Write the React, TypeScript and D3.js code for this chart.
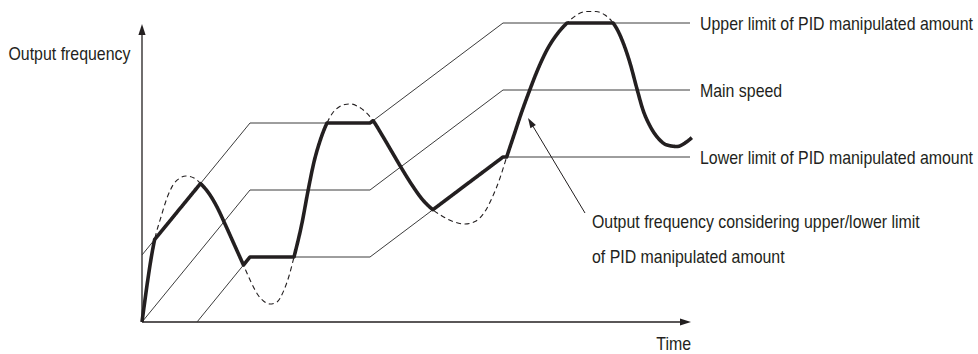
import React, { useEffect, useRef } from "react";
import * as d3 from "d3";

const W = 978;
const H = 354;

// Time axis (arbitrary units) and output frequency (arbitrary units)
const mainSpeedT = [0, 10.8, 22.8, 36.1, 54.8];
const mainSpeedF = [0, 26.4, 26.4, 46.4, 46.4];
const upperLimitT = [0, 10.8, 22.8, 36.1, 54.8];
const upperLimitF = [13.4, 39.8, 39.8, 59.8, 59.8];
const lowerLimitT = [5.5, 10.8, 22.8, 36.1, 54.8];
const lowerLimitF = [0, 13, 13, 33, 33];

// Unlimited PID output (dashed curve)
const pidOutputT = [
  0, 1.3, 1.9, 2.5, 3.1, 3.8, 4.4, 5.2, 5.9, 6.7, 7.5, 8.3, 9.2, 10.1, 10.9, 11.6,
  12.2, 12.8, 13.5, 14.2, 14.7, 15.2, 16.0, 16.6, 17.2, 17.8, 18.5, 19.1, 19.7,
  20.3, 20.9, 21.6, 22.3, 23.1, 24.0, 25.0, 26.0, 27.0, 28.0, 29.0, 30.0, 31.1,
  32.3, 33.3, 34.2, 35.0, 35.8, 36.5, 37.2, 37.9, 38.7, 39.6, 40.6, 41.6, 42.5,
  43.4, 44.4, 45.4, 46.3, 47.0, 47.6, 48.2, 48.8, 49.5, 50.1, 50.8, 51.6, 52.5,
  53.5, 54.3, 55.0,
];
const pidOutputF = [
  0, 16.8, 21, 24.8, 27.4, 28.8, 29.2, 28.8, 27.6, 25.7, 23, 19.6, 15.6, 11.6, 8, 5.4,
  4.1, 3.6, 4, 6.4, 9.2, 13, 19.8, 26.2, 32, 36.2, 39.8, 41.9, 43,
  43.5, 43.6, 43.1, 42.1, 40.3, 37.4, 34, 30.6, 27.4, 24.6, 22.6, 21.2, 20.1,
  19.6, 20.1, 21.8, 24.8, 28.8, 33.2, 37.4, 41.6, 46, 50.6, 54.8, 57.8, 59.8,
  61.3, 62.1, 62.1, 61.4, 60.1, 58.2, 55.4, 51.8, 46.6, 42.4, 39.2, 36.8, 35.4,
  35.1, 35.8, 36.9,
];

const lineLabels = [
  "Upper limit of PID manipulated amount",
  "Main speed",
  "Lower limit of PID manipulated amount",
];
const yAxisTitle = "Output frequency";
const xAxisTitle = "Time";
const calloutLines = [
  "Output frequency considering upper/lower limit",
  "of PID manipulated amount",
];
// callout arrow: [tail, tip] in data units
const calloutArrowT = [44.3, 38.6];
const calloutArrowF = [21.8, 40.8];

const FONT = "'Liberation Sans', Arial, sans-serif";
const FS = 15.9;
const STRETCH = 1.17;

export default function App() {
  const ref = useRef<SVGSVGElement>(null);

  useEffect(() => {
    const svg = d3.select(ref.current);
    svg.selectAll("*").remove();
    const ink = "#231f20";
    const thin = "#3c3c3c";

    const x = d3.scaleLinear().domain([0, 54.8]).range([142, 690]);
    const y = d3.scaleLinear().domain([0, 60]).range([322, 22]);

    const zip = (ts: number[], fs: number[]) =>
      ts.map((t, i) => [t, fs[i]] as [number, number]);
    const linear = d3
      .line<[number, number]>()
      .x((d) => x(d[0]))
      .y((d) => y(d[1]));
    const smooth = d3
      .line<[number, number]>()
      .x((d) => x(d[0]))
      .y((d) => y(d[1]))
      .curve(d3.curveMonotoneX);

    const addText = (s: string, tx: number, ty: number, anchor = "start") => {
      svg.append("text")
        .attr("transform", `translate(${tx},${ty}) scale(1,${STRETCH})`)
        .attr("text-anchor", anchor)
        .attr("font-family", FONT)
        .attr("font-size", FS)
        .attr("fill", ink)
        .text(s);
    };

    // axes
    const x0 = x(0), y0 = y(0);
    const yTop = 24;
    const xRight = 691;
    svg.append("line").attr("x1", x0).attr("y1", y0).attr("x2", x0).attr("y2", yTop + 8)
      .attr("stroke", ink).attr("stroke-width", 1.3);
    svg.append("path")
      .attr("d", `M${x0},${yTop}L${x0 - 3.6},${yTop + 11}L${x0 + 3.6},${yTop + 11}Z`)
      .attr("fill", ink);
    svg.append("line").attr("x1", x0).attr("y1", y0).attr("x2", xRight - 8).attr("y2", y0)
      .attr("stroke", ink).attr("stroke-width", 1.3);
    svg.append("path")
      .attr("d", `M${xRight},${y0}L${xRight - 11},${y0 - 3.6}L${xRight - 11},${y0 + 3.6}Z`)
      .attr("fill", ink);

    // limit lines and main speed
    const series: [number[], number[]][] = [
      [upperLimitT, upperLimitF],
      [mainSpeedT, mainSpeedF],
      [lowerLimitT, lowerLimitF],
    ];
    series.forEach(([ts, fs]) => {
      svg.append("path")
        .attr("d", linear(zip(ts, fs)))
        .attr("fill", "none")
        .attr("stroke", thin)
        .attr("stroke-width", 1);
    });

    // dashed unlimited output
    const raw = svg.append("path")
      .attr("d", smooth(zip(pidOutputT, pidOutputF)))
      .attr("fill", "none")
      .attr("stroke", ink)
      .attr("stroke-width", 1.1)
      .attr("stroke-dasharray", "5,3.5");

    // thick limited output = unlimited output clamped to the limits
    const node = raw.node() as SVGPathElement;
    const total = node.getTotalLength();
    const upperY = d3.scaleLinear().domain(upperLimitT.map(x)).range(upperLimitF.map(y)).clamp(true);
    const lowerY = d3.scaleLinear().domain(lowerLimitT.map(x)).range(lowerLimitF.map(y)).clamp(true);
    const pts: [number, number][] = [];
    for (let s = 0; s <= total + 0.001; s += 0.5) {
      const p = node.getPointAtLength(Math.min(s, total));
      pts.push([p.x, Math.max(upperY(p.x), Math.min(lowerY(p.x), p.y))]);
    }
    svg.append("path")
      .attr("d", d3.line()(pts))
      .attr("fill", "none")
      .attr("stroke", ink)
      .attr("stroke-width", 3.6)
      .attr("stroke-linejoin", "round");

    // labels for lines
    series.forEach(([, fs], i) => {
      addText(lineLabels[i], 700, y(fs[fs.length - 1]) + 6.5);
    });

    // axis titles
    addText(yAxisTitle, 8.5, 60);
    addText(xAxisTitle, 691, 350, "end");

    // callout arrow
    const tx = x(calloutArrowT[0]), ty = y(calloutArrowF[0]);
    const hx = x(calloutArrowT[1]), hy = y(calloutArrowF[1]);
    const dx = hx - tx, dy = hy - ty;
    const len = Math.hypot(dx, dy);
    const ux = dx / len, uy = dy / len;
    const hl = 10, hw = 3.2;
    svg.append("line")
      .attr("x1", tx).attr("y1", ty)
      .attr("x2", hx - ux * (hl - 2)).attr("y2", hy - uy * (hl - 2))
      .attr("stroke", ink).attr("stroke-width", 1);
    const bx = hx - ux * hl, by = hy - uy * hl;
    svg.append("path")
      .attr("d", `M${hx},${hy}L${bx - uy * hw},${by + ux * hw}L${bx + uy * hw},${by - ux * hw}Z`)
      .attr("fill", ink);

    calloutLines.forEach((s, i) => {
      addText(s, 592, 228 + i * 35);
    });
  }, []);

  return (
    <svg
      ref={ref}
      width={W}
      height={H}
      style={{ position: "absolute", left: 0, top: 0, background: "#fff" }}
    />
  );
}
